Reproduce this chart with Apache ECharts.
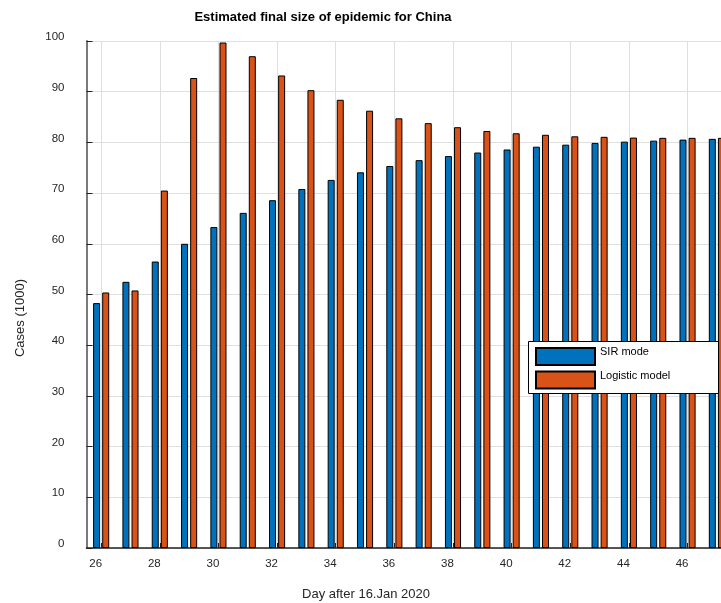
<!DOCTYPE html>
<html>
<head>
<meta charset="utf-8">
<script src="https://cdn.jsdelivr.net/npm/echarts@6/dist/echarts.min.js"></script>
<style>html,body{margin:0;padding:0;background:#fff;}#c{width:721px;height:603px;}</style>
</head>
<body>
<div id="c"></div>
<script>
const days = [26,27,28,29,30,31,32,33,34,35,36,37,38,39,40,41,42,43,44,45,46,47];
const sirModel = [48.3,52.5,56.5,60.0,63.3,66.1,68.6,70.8,72.6,74.1,75.35,76.5,77.3,78.0,78.6,79.15,79.55,79.9,80.15,80.35,80.55,80.7];
const logisticModel = [50.4,50.8,70.5,92.7,99.7,97.0,93.2,90.3,88.4,86.25,84.75,83.8,83.0,82.25,81.8,81.5,81.2,81.1,80.95,80.9,80.9,80.9];
const xTickValues = [26,28,30,32,34,36,38,40,42,44,46];
const seriesNames = ['SIR mode','Logistic model'];
const titleText = 'Estimated final size of epidemic for China';
const xName = 'Day after 16.Jan 2020';
const yName = 'Cases (1000)';

const FONT = '"Liberation Sans", Arial, Helvetica, sans-serif';
const chart = echarts.init(document.getElementById('c'));
chart.setOption({
  animation: false,
  backgroundColor: '#fff',
  title: {
    text: titleText, left: 323, top: 11, textAlign: 'center', padding: 0,
    textStyle: {fontFamily: FONT, fontSize: 13, fontWeight: 'bold', color: '#000'}
  },
  grid: {left: 86.5, right: 0, top: 41, bottom: 55, containLabel: false},
  xAxis: {
    type: 'value', min: 25.5, max: 47.141,
    axisLine: {show: true, onZero: false, lineStyle: {color: '#222', width: 1.5}},
    axisTick: {show: true, inside: true, length: 5, customValues: xTickValues, lineStyle: {color: '#222'}},
    axisLabel: {customValues: xTickValues, margin: 10, color: '#262626', fontFamily: FONT, fontSize: 11.5, padding: [0, 11, 0, 0]},
    splitLine: {show: true, lineStyle: {color: '#dfdfdf', width: 1}}
  },
  yAxis: {
    type: 'value', min: 0, max: 100, interval: 10,
    axisLine: {show: true, lineStyle: {color: '#7a7a7a', width: 2}},
    axisTick: {show: true, inside: true, length: 6, lineStyle: {color: '#222'}},
    axisLabel: {margin: 22, color: '#262626', fontFamily: FONT, fontSize: 11.5, verticalAlign: 'bottom', lineHeight: 8},
    splitLine: {show: true, lineStyle: {color: '#dfdfdf', width: 1}}
  },
  legend: {
    orient: 'vertical', left: 535, top: 346.5, padding: 0,
    itemWidth: 59, itemHeight: 17, itemGap: 4, itemTextGap: 5, z: 10,
    icon: 'rect',
    formatter: function (name) { return '{t|' + name + '}'; },
    textStyle: {fontFamily: FONT, fontSize: 11, color: '#000',
      rich: {t: {fontFamily: FONT, fontSize: 11, color: '#000', padding: [0, 0, 9, 0]}}},
    data: seriesNames
  },
  graphic: [
    {type: 'rect', z: 5, shape: {x: 528.5, y: 341.5, width: 190, height: 52},
     style: {fill: '#fff', stroke: '#000', lineWidth: 1}},
    {type: 'text', x: 366, y: 594, style: {text: xName, fontFamily: FONT, fontSize: 13, fill: '#262626', textAlign: 'center', textVerticalAlign: 'middle'}},
    {type: 'text', x: 20, y: 318, rotation: Math.PI / 2, style: {text: yName, fontFamily: FONT, fontSize: 13, fill: '#262626', textAlign: 'center', textVerticalAlign: 'middle'}}
  ],
  series: [
    {name: seriesNames[0], type: 'bar', barWidth: 7, barGap: '30%', clip: true,
     itemStyle: {color: '#0072BD', borderColor: '#000', borderWidth: 1},
     data: days.map((d, i) => [d, sirModel[i]])},
    {name: seriesNames[1], type: 'bar', barWidth: 7, barGap: '30%', clip: true,
     itemStyle: {color: '#D95319', borderColor: '#000', borderWidth: 1},
     data: days.map((d, i) => [d, logisticModel[i]])}
  ]
});
</script>
</body>
</html>
